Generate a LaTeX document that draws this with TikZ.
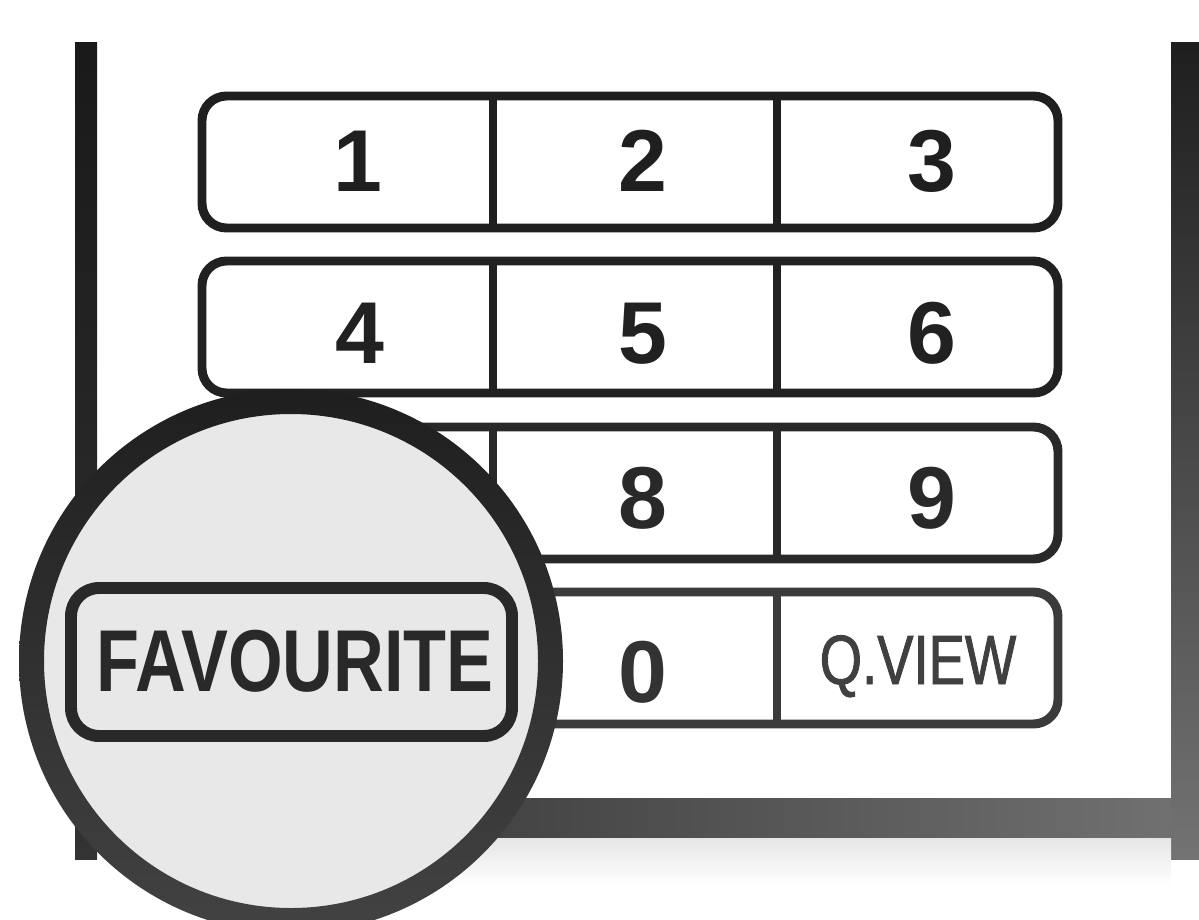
\documentclass[tikz,border=0pt]{standalone}
\usepackage{fontspec}
\setmainfont{Liberation Sans}
\newfontfamily\narrowfont[FakeStretch=0.8]{Liberation Sans}
\newfontfamily\viewfont[FakeStretch=0.78, FakeBold=1.2]{Liberation Sans}

\tikzset{
  keyrow/.style={line width=5.1pt, rounded corners=14pt, fill=white},
  keydiv/.style={line width=4pt},
  keylabel/.style={anchor=base, inner sep=0pt, font=\fontsize{50}{50}\selectfont\bfseries},
}

\begin{document}
\begin{tikzpicture}[x=0.02cm, y=-0.02cm]
    \useasboundingbox (0,0) rectangle (1199,919);
    \clip (0,0) rectangle (1199,919);

    % Remote body edges
    \shade[top color=black!90, bottom color=black!80] (75,43) rectangle (97,859);
    \shade[top color=black!88, bottom color=black!55] (1171,43) rectangle (1199,859);
    \shade[left color=black!76, right color=black!56] (400,798) rectangle (1171,838);
    % soft shadow under the bottom edge
    \shade[top color=black!10, bottom color=white] (400,838) rectangle (1171,885);

    % Keypad rows
    \foreach \top/\col in {92/black!88, 257/black!87, 423/black!84, 588/black!77} {
      \draw[keyrow, draw=\col] (202,\top+4) rectangle (1058,\top+136);
      \draw[keydiv, draw=\col] (493,\top+4) -- (493,\top+136);
      \draw[keydiv, draw=\col] (777,\top+4) -- (777,\top+136);
    }

    % Key labels
    \foreach \name/\x/\y/\txt/\col in {k1/358/191/1/black!88, k2/643/191/2/black!88, k3/932/191/3/black!88,
        k4/360/363/4/black!87, k5/643/363/5/black!87, k6/932/363/6/black!87,
        k8/643/528/8/black!84, k9/932/528/9/black!84, k0/643/702/0/black!80}
      \node[keylabel, text=\col] (\name) at (\x,\y) {\txt};
    \node[anchor=base, inner sep=0pt, text=black!75, font=\viewfont\fontsize{39.7}{40}\selectfont] (qview) at (918,684) {Q.VIEW};

    % Magnifier
    \coordinate (lens) at (291,661);
    \fill[black!9] (lens) circle (260);
    \shade[even odd rule, top color=black!88, bottom color=black!74] (lens) circle (272) (lens) circle (247);

    % Zoomed button
    \draw[line width=6.8pt, rounded corners=16pt, draw=black!84] (71,588) rectangle (512,736);
    \node[anchor=base, inner sep=0pt, text=black!84, font=\narrowfont\bfseries\fontsize{50}{50}\selectfont] (fav) at (295,691) {FAVOURITE};
\end{tikzpicture}
\end{document}
